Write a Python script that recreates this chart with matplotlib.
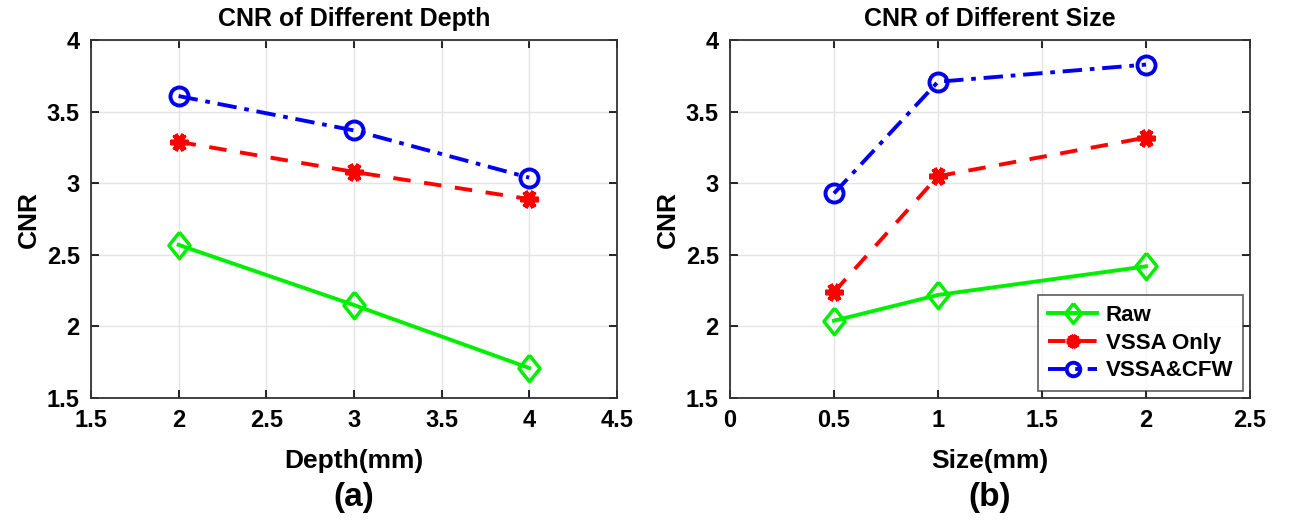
import matplotlib.pyplot as plt

plt.rcParams['font.family'] = ['Liberation Sans', 'DejaVu Sans']
plt.rcParams['font.weight'] = 'bold'

depth = [2, 3, 4]
depth_raw = [2.57, 2.15, 1.71]
depth_vssa = [3.29, 3.08, 2.89]
depth_cfw = [3.61, 3.37, 3.04]

size = [0.5, 1, 2]
size_raw = [2.04, 2.22, 2.42]
size_vssa = [2.24, 3.05, 3.32]
size_cfw = [2.93, 3.71, 3.83]

labels = ['Raw', 'VSSA Only', 'VSSA&CFW']

# wide diamond like the MATLAB one
diamond = [(0, 1), (0.8, 0), (0, -1), (-0.8, 0), (0, 1)]

fig = plt.figure(figsize=(12.92, 5.2), dpi=100)
ax1 = fig.add_axes([0.0704, 0.2346, 0.407, 0.688])
ax2 = fig.add_axes([0.565, 0.2346, 0.4025, 0.688])


def draw(ax, x, raw, vssa, cfw):
    ax.plot(x, raw, '-', color='#00ee00', lw=2.8, marker=diamond, ms=19,
            mfc='none', mew=2.5, label=labels[0])
    ax.plot(x, vssa, '--', color='#ff0000', lw=2.8, marker=(6, 2, 90), ms=13,
            mew=4, label=labels[1], dashes=(4.5, 3.5))
    ax.plot(x, cfw, '-.', color='#0000ee', lw=2.8, marker='o', ms=13,
            mfc='none', mew=2.8, label=labels[2], dashes=(5, 2, 1.2, 2))
    ax.set_ylim(1.5, 4)
    ax.set_yticks([1.5, 2, 2.5, 3, 3.5, 4])
    ax.set_yticklabels(['1.5', '2', '2.5', '3', '3.5', '4'])
    ax.grid(True, color='#e4e4e4', lw=1)
    ax.tick_params(direction='in', labelsize=17, length=6, width=1.2, pad=8,
                   top=True, right=True)
    for s in ax.spines.values():
        s.set_linewidth(1.3)
        s.set_color('#333333')
    ax.set_ylabel('CNR', fontsize=19, fontweight='bold', labelpad=4)


draw(ax1, depth, depth_raw, depth_vssa, depth_cfw)
ax1.set_xlim(1.5, 4.5)
ax1.set_xticks([1.5, 2, 2.5, 3, 3.5, 4, 4.5])
ax1.set_xticklabels(['1.5', '2', '2.5', '3', '3.5', '4', '4.5'])
ax1.set_title('CNR of Different Depth', fontsize=18, fontweight='bold', pad=10)
ax1.set_xlabel('Depth(mm)', fontsize=19, fontweight='bold', labelpad=12)
fig.text(ax1.get_position().x0 + ax1.get_position().width / 2, 0.044, '(a)',
         ha='center', va='center', fontsize=24, fontweight='bold')

draw(ax2, size, size_raw, size_vssa, size_cfw)
ax2.set_xlim(0, 2.5)
ax2.set_xticks([0, 0.5, 1, 1.5, 2, 2.5])
ax2.set_xticklabels(['0', '0.5', '1', '1.5', '2', '2.5'])
ax2.set_title('CNR of Different Size', fontsize=18, fontweight='bold', pad=10)
ax2.set_xlabel('Size(mm)', fontsize=19, fontweight='bold', labelpad=12)
fig.text(ax2.get_position().x0 + ax2.get_position().width / 2, 0.044, '(b)',
         ha='center', va='center', fontsize=24, fontweight='bold')
leg = ax2.legend(loc='lower right', fontsize=16, fancybox=False, edgecolor='#333333',
                 handlelength=2.2, borderaxespad=0.3, labelspacing=0.3,
                 handletextpad=0.4, borderpad=0.45, markerscale=0.75)
leg.get_frame().set_linewidth(1.2)

fig.savefig('out.png', dpi=100)
